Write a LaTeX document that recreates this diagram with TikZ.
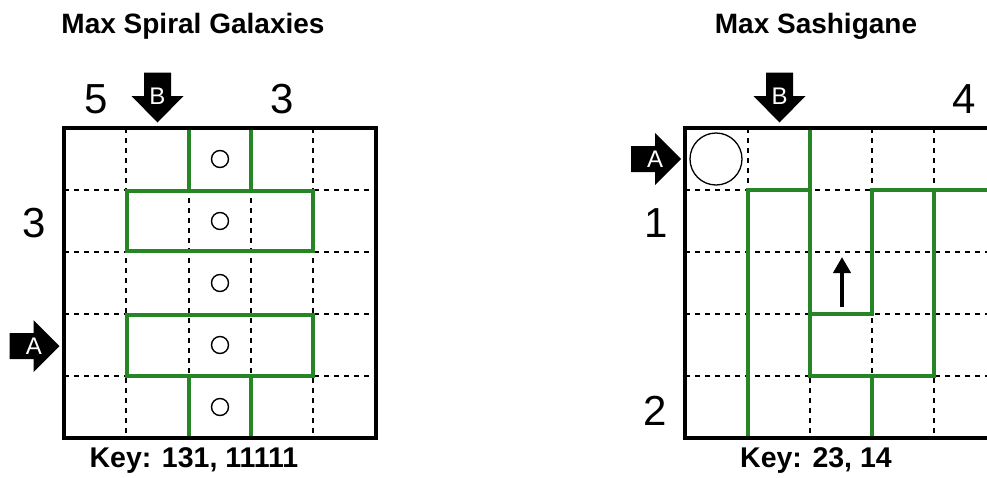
\documentclass[tikz,border=0pt]{standalone}
\usepackage{fontspec}
\setmainfont{Liberation Sans}
\usetikzlibrary{arrows.meta}
\definecolor{gline}{RGB}{38,134,38}
\newcommand\mydownarrow[2]{% cx, top
  \fill (#1-13.5,#2) -- (#1+13.5,#2) -- (#1+13.5,#2+23.5) -- (#1+26,#2+23.5) -- (#1,#2+50) -- (#1-26,#2+23.5) -- (#1-13.5,#2+23.5) -- cycle;}
\newcommand\myrightarrow[2]{% tipx, cy
  \fill (#1-50,#2-13) -- (#1-26,#2-13) -- (#1-26,#2-26) -- (#1,#2) -- (#1-26,#2+26) -- (#1-26,#2+13) -- (#1-50,#2+13) -- cycle;}
\tikzset{
  border/.style={line width=4.5pt, line cap=rect},
  gridd/.style={line width=1.2pt, dash pattern=on 5pt off 5pt},
  wall/.style={draw=gline, line width=4.6pt, line cap=rect},
  num/.style={font=\fontsize{42}{42}\selectfont, anchor=base, inner sep=0pt},
  title/.style={font=\fontsize{28}{28}\selectfont\bfseries, anchor=base, inner sep=0pt},
  keyt/.style={font=\fontsize{28.5}{28.5}\selectfont\bfseries, anchor=base, inner sep=0pt},
  letter/.style={font=\fontsize{24}{24}\selectfont, text=white, inner sep=0pt},
  dot/.style={circle, draw, line width=1.4pt, minimum size=17pt, inner sep=0pt},
}
\begin{document}
\begin{tikzpicture}[x=1pt,y=-1pt]
\clip (0,0) rectangle (987,477);
\fill[white] (0,0) rectangle (987,477);
% titles
\node[title] (t1) at (193,33) {Max Spiral Galaxies};
\node[title] (t2) at (816,33) {Max Sashigane};
% ---------- left grid ----------
\foreach \x in {126,189,251,313} \draw[gridd] (\x,128) -- (\x,438);
\foreach \y in {190,252,314,376} \draw[gridd] (64,\y) -- (376,\y);
\draw[wall] (189,128) -- (189,190);
\draw[wall] (251,128) -- (251,190);
\draw[wall] (127,191) rectangle (313,251);
\draw[wall] (127,315) rectangle (313,376);
\draw[wall] (189,376) -- (189,438);
\draw[wall] (251,376) -- (251,438);
\draw[border] (64,128) rectangle (376,438);
\foreach \y [count=\i] in {159,221,283,345,407} \node[dot] (c\i) at (220,\y) {};
\node[num] (l5) at (96,113) {5};
\node[num] (l3t) at (282.5,113) {3};
\node[num] (l3l) at (34,237) {3};
\mydownarrow{157.5}{72.5}
\node[letter] (lb) at (157.5,96.5) {B};
\myrightarrow{59.5}{346}
\node[letter] (la) at (34,346.5) {A};
\node[keyt] (k1) at (194,467) {Key: 131, 11111};
% ---------- right grid ----------
\foreach \x in {748,810,872,934} \draw[gridd] (\x,128) -- (\x,438);
\foreach \y in {190,252,314,376} \draw[gridd] (685,\y) -- (997,\y);
\draw[wall] (810,128) -- (810,376) -- (934,376) -- (934,190);
\draw[wall] (748,438) -- (748,190) -- (810,190);
\draw[wall] (810,314) -- (872,314) -- (872,190) -- (997,190);
\draw[wall] (872,376) -- (872,438);
\draw[border] (997,128) -- (685,128) -- (685,438) -- (997,438);
\node[circle, draw, line width=1.3pt, minimum size=52pt, inner sep=0pt] (bigc) at (716,159) {};
\coordinate (ua) at (842,307);
\coordinate (ub) at (842,257);
\draw[line width=4.5pt, -{Triangle[width=17pt,length=16pt]}] (ua) -- (ub);
\node[num] (r4) at (964,113) {4};
\node[num] (r1) at (656,237) {1};
\node[num] (r2) at (655.5,425) {2};
\mydownarrow{779.5}{72.5}
\node[letter] (rb) at (779.5,96.5) {B};
\myrightarrow{681}{159}
\node[letter] (ra) at (655,159.5) {A};
\node[keyt] (k2) at (816,467) {Key: 23, 14};
\end{tikzpicture}
\end{document}
